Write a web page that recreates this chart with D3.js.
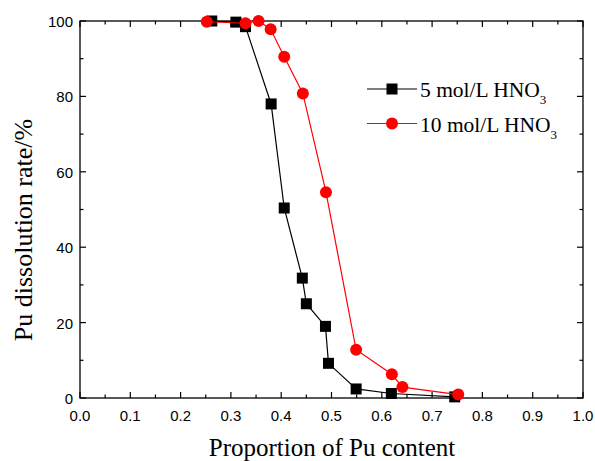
<!DOCTYPE html>
<html>
<head>
<meta charset="utf-8">
<script src="https://cdn.jsdelivr.net/npm/d3@7"></script>
<style>
  html, body { margin: 0; padding: 0; background: #fff; }
  svg { display: block; }
</style>
</head>
<body>
<svg id="chart" width="595" height="461"></svg>
<script>
// 5 mol/L HNO3 series
const x5 = [0.262, 0.31, 0.329, 0.380, 0.406, 0.442, 0.450, 0.488, 0.494, 0.549, 0.619, 0.745];
const y5 = [100, 99.7, 98.5, 78.0, 50.4, 31.8, 25.0, 19.0, 9.2, 2.4, 1.2, 0.3];
// 10 mol/L HNO3 series
const x10 = [0.252, 0.329, 0.355, 0.379, 0.406, 0.443, 0.489, 0.549, 0.620, 0.641, 0.752];
const y10 = [99.8, 99.4, 100, 97.8, 90.5, 80.8, 54.6, 12.8, 6.3, 2.9, 0.9];

const xTicks = [0, 0.1, 0.2, 0.3, 0.4, 0.5, 0.6, 0.7, 0.8, 0.9, 1.0];
const yTicks = [0, 20, 40, 60, 80, 100];

const svg = d3.select("#chart");
const pLeft = 80, pRight = 583, pTop = 21, pBottom = 398;

const x = d3.scaleLinear().domain([0, 1]).range([pLeft, pRight]);
const y = d3.scaleLinear().domain([0, 100]).range([pBottom, pTop]);

const serif = "'Liberation Serif', 'Times New Roman', serif";
const sans = "'Liberation Sans', Arial, sans-serif";

// frame
svg.append("rect").attr("x", pLeft).attr("y", pTop)
  .attr("width", pRight - pLeft).attr("height", pBottom - pTop)
  .attr("fill", "none").attr("stroke", "#000").attr("stroke-width", 1.3);

// ticks (inward, all four sides)
const g = svg.append("g").attr("stroke", "#000").attr("stroke-width", 1.2);
d3.range(0, 1.0001, 0.05).forEach((v, i) => {
  const len = i % 2 === 0 ? 6 : 3.5;
  g.append("line").attr("x1", x(v)).attr("x2", x(v)).attr("y1", pBottom).attr("y2", pBottom - len);
  g.append("line").attr("x1", x(v)).attr("x2", x(v)).attr("y1", pTop).attr("y2", pTop + len);
});
d3.range(0, 100.001, 10).forEach((v, i) => {
  const len = i % 2 === 0 ? 6 : 3.5;
  g.append("line").attr("y1", y(v)).attr("y2", y(v)).attr("x1", pLeft).attr("x2", pLeft + len);
  g.append("line").attr("y1", y(v)).attr("y2", y(v)).attr("x1", pRight).attr("x2", pRight - len);
});

// tick labels
svg.append("g").selectAll("text").data(xTicks).enter().append("text")
  .attr("x", d => x(d)).attr("y", pBottom + 23)
  .attr("text-anchor", "middle").attr("font-family", sans).attr("font-size", 15)
  .text(d => d.toFixed(1));
svg.append("g").selectAll("text").data(yTicks).enter().append("text")
  .attr("x", pLeft - 7).attr("y", d => y(d) + 6)
  .attr("text-anchor", "end").attr("font-family", sans).attr("font-size", 15)
  .text(d => d);

// axis titles
svg.append("text").attr("x", 332).attr("y", 456)
  .attr("text-anchor", "middle").attr("font-family", serif).attr("font-size", 25)
  .text("Proportion of Pu content");
svg.append("text").attr("transform", "translate(32,230) rotate(-90)")
  .attr("text-anchor", "middle").attr("font-family", serif).attr("font-size", 26)
  .text("Pu dissolution rate/%");

// series
const series = [
  { xs: x5, ys: y5, color: "#000", shape: "square", label: "5 mol/L HNO" },
  { xs: x10, ys: y10, color: "#ff0000", shape: "circle", label: "10 mol/L HNO" }
];

const line = d3.line().x(d => x(d[0])).y(d => y(d[1]));

function marker(sel, shape, color, cx, cy) {
  if (shape === "square") {
    sel.append("rect").attr("x", cx - 5.5).attr("y", cy - 5.5).attr("width", 11).attr("height", 11)
      .attr("fill", color);
  } else {
    sel.append("circle").attr("cx", cx).attr("cy", cy).attr("r", 6).attr("fill", color);
  }
}

// draw black first, then red on top
series.forEach(s => {
  const pts = s.xs.map((v, i) => [v, s.ys[i]]);
  svg.append("path").datum(pts).attr("d", line)
    .attr("fill", "none").attr("stroke", s.color).attr("stroke-width", 1.2);
  const mg = svg.append("g");
  pts.forEach(p => marker(mg, s.shape, s.color, x(p[0]), y(p[1])));
});

// legend
series.forEach((s, i) => {
  const ly = 89 + i * 34.5;
  const lg = svg.append("g");
  lg.append("line").attr("x1", 367).attr("x2", 417).attr("y1", ly).attr("y2", ly)
    .attr("stroke", s.color).attr("stroke-width", 1.2);
  marker(lg, s.shape, s.color, 392, ly);
  const t = lg.append("text").attr("x", 420).attr("y", ly + 8)
    .attr("font-family", serif).attr("font-size", 21.5).text(s.label);
  t.append("tspan").attr("font-size", 13).attr("dy", 7).text("3");
});
</script>
</body>
</html>
